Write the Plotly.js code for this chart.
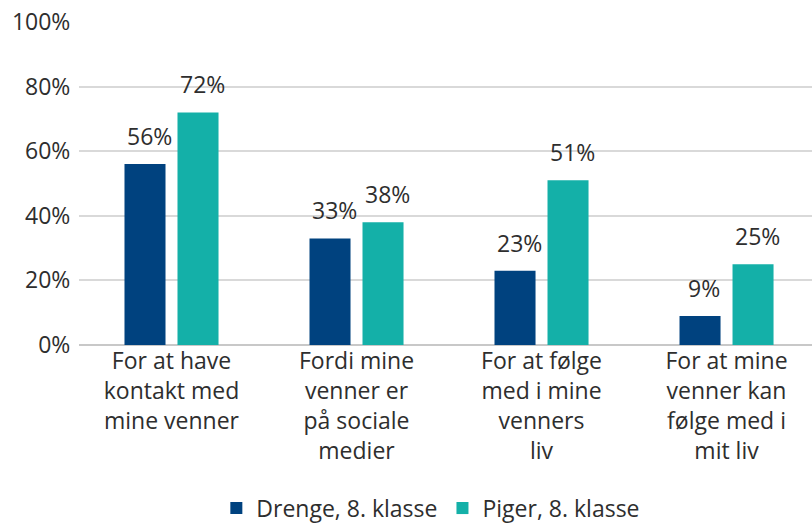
<!DOCTYPE html>
<html>
<head>
<meta charset="utf-8">
<script src="https://cdn.plot.ly/plotly-3.0.1.min.js"></script>
<style>html,body{margin:0;padding:0;background:#fff;}#chart{width:812px;height:523px;}</style>
</head>
<body>
<div id="chart"></div>
<script>
const categories = ["For at have<br>kontakt med<br>mine venner", "Fordi mine<br>venner er<br>på sociale<br>medier", "For at følge<br>med i mine<br>venners<br>liv", "For at mine<br>venner kan<br>følge med i<br>mit liv"];
const seriesNames = ["Drenge, 8. klasse", "Piger, 8. klasse"];
const drenge = [56, 33, 23, 9];
const piger = [72, 38, 51, 25];
const yTicks = [0, 20, 40, 60, 80, 100];

const colors = ["#00427f", "#14b0a8"];
const font = {family: "Open Sans, sans-serif", size: 23, color: "#2e2e2e"};

const traces = [drenge, piger].map((vals, i) => ({
  type: "bar",
  name: seriesNames[i],
  x: categories,
  y: vals,
  marker: {color: colors[i]},
  hoverinfo: "none"
}));

const annotations = [];
[drenge, piger].forEach((vals, i) => {
  vals.forEach((v, j) => {
    annotations.push({
      x: categories[j], y: v, xref: "x", yref: "y",
      text: v + "%", showarrow: false, yanchor: "bottom",
      xshift: (i === 0 ? -26.5 : 26.5) + 4, yshift: 10,
      font: font
    });
  });
});

const layout = {
  width: 812, height: 523,
  margin: {l: 79, r: 0, t: 22, b: 178, autoexpand: false},
  paper_bgcolor: "#fff", plot_bgcolor: "#fff",
  font: font,
  barmode: "group",
  bargap: 0.427,
  bargroupgap: 0.226,
  showlegend: true,
  legend: {orientation: "h", x: 0.48, xanchor: "center", y: -0.505, yanchor: "middle", font: font, itemclick: false},
  xaxis: {type: "category", range: [-0.5, 3.462], tickfont: font, showgrid: false, ticks: "", showline: false, zeroline: false, fixedrange: true, automargin: false},
  yaxis: {range: [0, 100], tickvals: yTicks, ticktext: yTicks.map(t => t + "%"), tickfont: font,
    showgrid: true, gridcolor: "#d9d9d9", gridwidth: 2, zeroline: true, zerolinecolor: "#c8c8c8", zerolinewidth: 2,
    ticks: "outside", ticklen: 3, tickcolor: "rgba(0,0,0,0)", showline: false, fixedrange: true, automargin: false},
  annotations: annotations
};

Plotly.newPlot("chart", traces, layout, {displayModeBar: false, staticPlot: true});
</script>
</body>
</html>
